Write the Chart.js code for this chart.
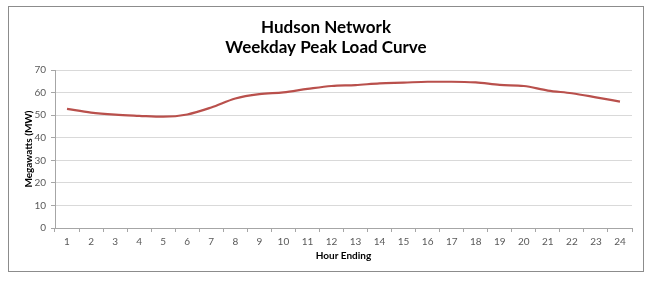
<!DOCTYPE html>
<html>
<head>
<meta charset="utf-8">
<script src="https://cdn.jsdelivr.net/npm/chart.js@4/dist/chart.umd.min.js"></script>
<style>
  html, body { margin: 0; padding: 0; background: #ffffff; }
  #wrap { width: 648px; height: 281px; }
</style>
</head>
<body>
<div id="wrap"><canvas id="c" width="648" height="281"></canvas></div>
<script>
const hours = ['1','2','3','4','5','6','7','8','9','10','11','12','13','14','15','16','17','18','19','20','21','22','23','24'];
const loadMW = [52.8, 51.1, 50.2, 49.7, 49.3, 50.3, 53.4, 57.4, 59.3, 60.1, 61.6, 62.9, 63.3, 64.1, 64.4, 64.8, 64.8, 64.5, 63.4, 62.9, 60.9, 59.7, 57.9, 56.0];
const yTicks = [0, 10, 20, 30, 40, 50, 60, 70];
const titleLines = ['Hudson Network', 'Weekday Peak Load Curve'];

const frameAndTitle = {
  id: 'frameAndTitle',
  beforeDraw(chart) {
    const ctx = chart.ctx;
    ctx.save();
    ctx.fillStyle = '#ffffff';
    ctx.fillRect(0, 0, chart.width, chart.height);
    ctx.strokeStyle = '#8c8c8c';
    ctx.lineWidth = 1;
    ctx.strokeRect(8.5, 6.5, 635, 265);
    ctx.fillStyle = '#000000';
    ctx.font = 'bold 17px Lato, "Liberation Sans", sans-serif';
    ctx.textAlign = 'center';
    ctx.textBaseline = 'alphabetic';
    titleLines.forEach((t, i) => ctx.fillText(t, 326, 33 + i * 19.5));
    ctx.restore();
  }
};

const tickFont = { family: 'Lato, "Liberation Sans", sans-serif', size: 10 };

new Chart(document.getElementById('c'), {
  type: 'line',
  data: {
    labels: hours,
    datasets: [{
      data: loadMW,
      borderColor: '#b9504c',
      borderWidth: 2.2,
      pointRadius: 0,
      cubicInterpolationMode: 'monotone',
      fill: false
    }]
  },
  plugins: [frameAndTitle],
  options: {
    responsive: false,
    animation: false,
    layout: { padding: { left: 0, right: 16, top: 70, bottom: 0 } },
    plugins: {
      legend: { display: false },
      tooltip: { enabled: false },
      title: { display: false }
    },
    scales: {
      x: {
        type: 'category',
        offset: true,
        grid: { offset: true, drawOnChartArea: false, drawTicks: true, tickLength: 4, color: '#a6a6a6' },
        border: { display: true, color: '#a6a6a6', width: 1 },
        ticks: { color: '#595959', font: tickFont, padding: 4, maxRotation: 0, autoSkip: false },
        title: {
          display: true,
          text: 'Hour Ending',
          color: '#000000',
          font: { family: 'Lato, "Liberation Sans", sans-serif', size: 10, weight: 'bold' },
          padding: { top: 0, bottom: 19 }
        },
        afterFit(scale) { scale.height = 53; }
      },
      y: {
        min: 0,
        max: 70,
        afterBuildTicks(scale) { scale.ticks = yTicks.map(v => ({ value: v })); },
        grid: { color: '#d9d9d9', drawTicks: true, tickLength: 4, tickColor: '#a6a6a6' },
        border: { display: true, color: '#a6a6a6', width: 1 },
        ticks: { color: '#595959', font: tickFont, padding: 5 },
        title: {
          display: true,
          text: 'Megawatts (MW)',
          color: '#000000',
          font: { family: 'Lato, "Liberation Sans", sans-serif', size: 10, weight: 'bold' },
          padding: { top: 23, bottom: 0 }
        },
        afterFit(scale) { scale.width = 55; }
      }
    }
  }
});
</script>
</body>
</html>
